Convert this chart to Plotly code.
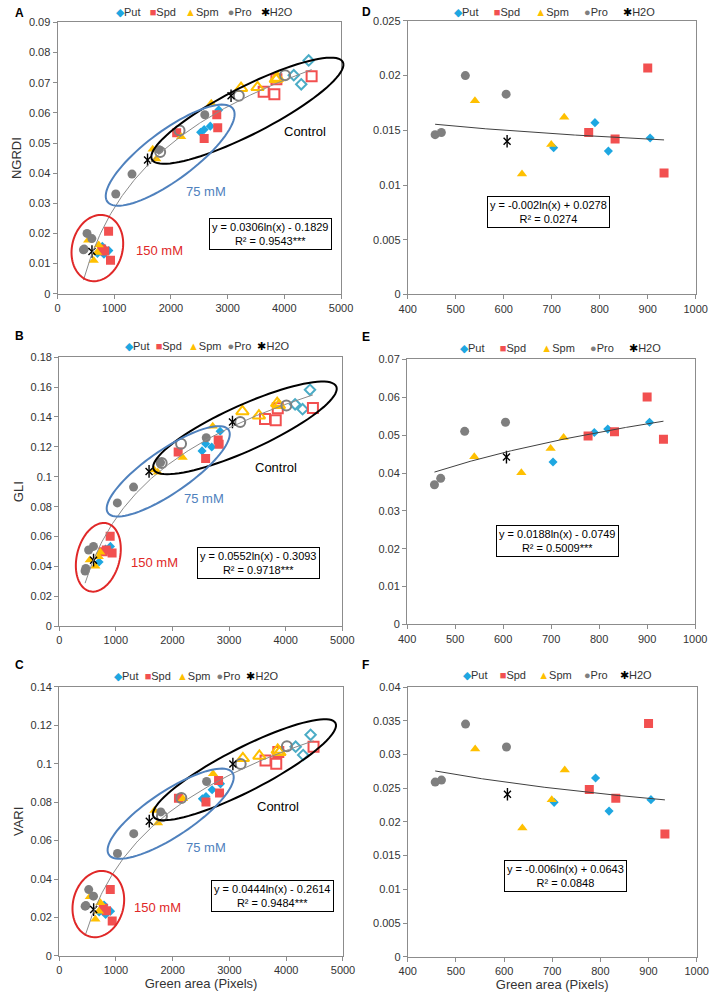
import numpy as np
import plotly.graph_objects as go

W, H = 722, 1000

# ---------------- data ----------------
treatments = ["Put", "Spd", "Spm", "Pro", "H2O"]

# Control (0 mM) - hollow markers
area_ctrl = {"Put": [4166, 4298, 4429], "Spd": [3635, 3824, 3860, 4481],
             "Spm": [3236, 3527, 3850, 3880], "Pro": [1810, 2152, 3197, 4012], "H2O": [3060]}
ngrdi_ctrl = {"Put": [0.0725, 0.0695, 0.0774], "Spd": [0.0670, 0.0662, 0.0712, 0.0722],
              "Spm": [0.0682, 0.0685, 0.0712, 0.0716], "Pro": [0.0470, 0.0542, 0.0657, 0.0725], "H2O": [0.0657]}
gli_ctrl = {"Put": [0.1485, 0.1452, 0.1582], "Spd": [0.1386, 0.1378, 0.1459, 0.1461],
            "Spm": [0.1437, 0.1409, 0.1492, 0.1478], "Pro": [0.1092, 0.1221, 0.1366, 0.1477], "H2O": [0.1366]}
vari_ctrl = {"Put": [0.1088, 0.1045, 0.1150], "Spd": [0.1016, 0.1000, 0.1060, 0.1088],
             "Spm": [0.1028, 0.1040, 0.1071, 0.1059], "Pro": [0.0726, 0.0821, 0.0998, 0.1090], "H2O": [0.0998]}

# 75 mM - filled markers
area_75 = {"Put": [2523, 2586, 2694, 2842], "Spd": [2101, 2586, 2808, 2825],
           "Spm": [1678, 1741, 2180, 2711], "Pro": [1027, 1313, 1790, 2597], "H2O": [1587]}
ngrdi_75 = {"Put": [0.0536, 0.0545, 0.0556, 0.0610], "Spd": [0.0534, 0.0515, 0.0594, 0.0551],
            "Spm": [0.0479, 0.0447, 0.0521, 0.0632], "Pro": [0.0331, 0.0397, 0.0478, 0.0594], "H2O": [0.0444]}
gli_75 = {"Put": [0.1173, 0.1221, 0.1199, 0.1305], "Spd": [0.1166, 0.1122, 0.1246, 0.1217],
          "Spm": [0.1045, 0.1030, 0.1129, 0.1338], "Pro": [0.0825, 0.0931, 0.1095, 0.1261], "H2O": [0.1036]}
vari_75 = {"Put": [0.0817, 0.0829, 0.0864, 0.0895], "Spd": [0.0820, 0.0800, 0.0912, 0.0847],
           "Spm": [0.0757, 0.0692, 0.0817, 0.0947], "Pro": [0.0533, 0.0636, 0.0749, 0.0907], "H2O": [0.0701]}

# 150 mM - filled markers
area_150 = {"Put": [704, 790, 818, 905], "Spd": [777, 832, 900, 934],
            "Spm": [540, 638, 699, 726], "Pro": [457, 470, 520, 605], "H2O": [607]}
ngrdi_150 = {"Put": [0.0134, 0.0157, 0.0131, 0.0143], "Spd": [0.0148, 0.0142, 0.0207, 0.0111],
             "Spm": [0.0177, 0.0110, 0.0137, 0.0162], "Pro": [0.0146, 0.0148, 0.0200, 0.0183], "H2O": [0.0140]}
gli_150 = {"Put": [0.0429, 0.0507, 0.0516, 0.0534], "Spd": [0.0498, 0.0509, 0.0601, 0.0489],
           "Spm": [0.0443, 0.0401, 0.0465, 0.0494], "Pro": [0.0369, 0.0386, 0.0510, 0.0534], "H2O": [0.0442]}
vari_150 = {"Put": [0.0229, 0.0265, 0.0216, 0.0233], "Spd": [0.0248, 0.0235, 0.0346, 0.0182],
            "Spm": [0.0308, 0.0191, 0.0233, 0.0277], "Pro": [0.0259, 0.0262, 0.0345, 0.0311], "H2O": [0.0241]}

# logarithmic trend lines: y = a*ln(x) + b, R2 label
fit_all = {"NGRDI": (0.0306, -0.1829, "0.9543***"), "GLI": (0.0552, -0.3093, "0.9718***"),
           "VARI": (0.0444, -0.2614, "0.9484***")}
fit_150 = {"NGRDI": (-0.002, 0.0278, "0.0274"), "GLI": (0.0188, -0.0749, "0.5009***"),
           "VARI": (-0.006, 0.0643, "0.0848")}

# ---------------- styles ----------------
FONT = "Arial, Liberation Sans, sans-serif"
fill_style = {"Put": ("diamond", "#1ea7e1", 7), "Spd": ("square", "#f25050", 9),
              "Spm": ("triangle-up", "#ffc000", 9), "Pro": ("circle", "#7f7f7f", 9)}
open_style = {"Put": ("diamond-open", "#4bacc6", 8), "Spd": ("square-open", "#f25050", 10),
              "Spm": ("triangle-up-open", "#ffc000", 11), "Pro": ("circle-open", "#7f7f7f", 10)}
legend_sym = {"Put": "◆", "Spd": "■", "Spm": "▲", "Pro": "●", "H2O": "✱"}
legend_col = {"Put": "#1ea7e1", "Spd": "#f25050", "Spm": "#ffc000", "Pro": "#7f7f7f", "H2O": "#000000"}


def px(x):
    return x / W


def py(y):
    return 1 - y / H


# panel definitions (pixel geometry)
panels = [
    dict(n=1, letter="A", idx="NGRDI", kind="all", xd=(50, 342), yd=(291.2, 16.7), yr=(0, 0.09), dt=0.01,
         data=(ngrdi_ctrl, ngrdi_75, ngrdi_150), leg=(201, 6, 3), lab=(4, 7), box=(269.5, 231)),
    dict(n=2, letter="D", idx="NGRDI", kind="150", xd=(410.7, 707.3), yd=(292, 15), yr=(0, 0.025), dt=0.005,
         data=(None, None, ngrdi_150), leg=(561.5, 6, 5), lab=(362, 6), box=(555.5, 208)),
    dict(n=3, letter="B", idx="GLI", kind="all", xd=(51.7, 343.3), yd=(627.7, 355.5), yr=(0, 0.18), dt=0.02,
         data=(gli_ctrl, gli_75, gli_150), leg=(204.5, 344, 2), lab=(4, 334), box=(257, 563.5)),
    dict(n=4, letter="E", idx="GLI", kind="150", xd=(410, 706.7), yd=(626, 357.7), yr=(0, 0.07), dt=0.01,
         data=(None, None, gli_150), leg=(568, 345.7, 5), lab=(362, 335), box=(564.5, 541.5)),
    dict(n=5, letter="C", idx="VARI", kind="all", xd=(51.7, 344), yd=(961.5, 689), yr=(0, 0.14), dt=0.02,
         data=(vari_ctrl, vari_75, vari_150), leg=(193, 677.7, 2), lab=(4, 667), box=(271, 901)),
    dict(n=6, letter="F", idx="VARI", kind="150", xd=(410.7, 708.3), yd=(962.3, 689.3), yr=(0, 0.04), dt=0.005,
         data=(None, None, vari_150), leg=(565, 676.7, 4), lab=(362, 667), box=(573, 881)),
]

fig = go.Figure()
layout = dict(width=W, height=H, margin=dict(l=0, r=0, t=0, b=0), showlegend=False,
              paper_bgcolor="white", plot_bgcolor="white", font=dict(family=FONT, color="#333333"))
annotations = []
shapes = []


def add_h2o(xs, ys, xa, ya):
    fig.add_trace(go.Scatter(x=xs, y=ys, xaxis=xa, yaxis=ya, mode="markers", name="H2O",
                             marker=dict(symbol="x-thin-open", size=7, color="black",
                                         line=dict(color="black", width=1.4))))
    fig.add_trace(go.Scatter(x=xs, y=ys, xaxis=xa, yaxis=ya, mode="markers", name="H2O",
                             marker=dict(symbol="line-ns-open", size=9, color="black",
                                         line=dict(color="black", width=1.4))))


for p in panels:
    n = p["n"]
    xa, ya = ("x" if n == 1 else f"x{n}"), ("y" if n == 1 else f"y{n}")
    ctrl, d75, d150 = p["data"]
    allx = []
    # filled markers: 75 mM + 150 mM
    for t in treatments:
        xs = list(area_150[t])
        ys = list(d150[t])
        if p["kind"] == "all":
            xs = area_75[t] + xs
            ys = d75[t] + ys
        allx += xs
        if t == "H2O":
            add_h2o(xs, ys, xa, ya)
        else:
            sym, col, sz = fill_style[t]
            fig.add_trace(go.Scatter(x=xs, y=ys, xaxis=xa, yaxis=ya, mode="markers", name=t,
                                     marker=dict(symbol=sym, color=col, size=sz, line=dict(width=0))))
    # hollow markers: control
    if p["kind"] == "all":
        for t in treatments:
            allx += area_ctrl[t]
            if t == "H2O":
                add_h2o(area_ctrl[t], ctrl[t], xa, ya)
            else:
                sym, col, sz = open_style[t]
                fig.add_trace(go.Scatter(x=area_ctrl[t], y=ctrl[t], xaxis=xa, yaxis=ya, mode="markers",
                                         name=t + " control",
                                         marker=dict(symbol=sym, color=col, size=sz, line=dict(color=col, width=2))))
    # trend line
    a, b, r2 = (fit_all if p["kind"] == "all" else fit_150)[p["idx"]]
    xt = np.linspace(min(allx), max(allx), 200)
    yt = a * np.log(xt) + b
    fig.add_trace(go.Scatter(x=xt, y=yt, xaxis=xa, yaxis=ya, mode="lines", name="trend",
                             line=dict(color="#8a8a8a" if p["kind"] == "all" else "#404040", width=1),
                             hoverinfo="skip"))
    # axes
    is_left = p["kind"] == "all"
    bottom = n in (5, 6)
    xaxis = dict(domain=[px(p["xd"][0]), px(p["xd"][1])], anchor=ya,
                 range=[0, 5000] if is_left else [400, 1000], dtick=1000 if is_left else 100,
                 showgrid=False, zeroline=False, showline=True, linecolor="#8c8c8c", linewidth=1, mirror=True,
                 ticks="outside", ticklen=4, tickcolor="#8c8c8c", tickfont=dict(size=11, color="#333333"))
    if bottom:
        xaxis["title"] = dict(text="Green area (Pixels)", font=dict(size=13, color="#333333"), standoff=2)
    yaxis = dict(domain=[py(p["yd"][0]), py(p["yd"][1])], anchor=xa, range=list(p["yr"]), dtick=p["dt"], tick0=0,
                 showgrid=False, zeroline=False, showline=True, linecolor="#8c8c8c", linewidth=1, mirror=True,
                 ticks="outside", ticklen=4, tickcolor="#8c8c8c", tickfont=dict(size=11, color="#333333"))
    if is_left:
        yaxis["title"] = dict(text=p["idx"], font=dict(size=13, color="#333333"), standoff=4)
    layout["xaxis" if n == 1 else f"xaxis{n}"] = xaxis
    layout["yaxis" if n == 1 else f"yaxis{n}"] = yaxis

    # panel letter
    annotations.append(dict(text=f"<b>{p['letter']}</b>", x=px(p["lab"][0]), y=py(p["lab"][1]), xref="paper",
                            yref="paper", xanchor="left", yanchor="middle", showarrow=False,
                            font=dict(size=12, color="black")))
    # legend row
    gap = "&nbsp;" * p["leg"][2]
    legtxt = gap.join(f"<span style='color:{legend_col[t]}'>{legend_sym[t]}</span>{t}" for t in treatments)
    annotations.append(dict(text=legtxt, x=px(p["leg"][0]), y=py(p["leg"][1]), xref="paper", yref="paper",
                            xanchor="center", yanchor="middle", showarrow=False,
                            font=dict(size=11, color="#333333")))
    # equation box
    sign = "-" if b < 0 else "+"
    eq = f"y = {a:g}ln(x) {sign} {abs(b):.4f}<br>R² = {r2}"
    annotations.append(dict(text=eq, x=px(p["box"][0]), y=py(p["box"][1]), xref="paper", yref="paper",
                            xanchor="center", yanchor="middle", showarrow=False, align="center",
                            bordercolor="black", borderwidth=1, borderpad=2, bgcolor="white",
                            font=dict(size=11, color="black")))


# ---------------- ellipses & group labels (left panels) ----------------
def ellipse_path(cx, cy, a, b, ang):
    t = np.linspace(0, 2 * np.pi, 90)
    th = np.radians(ang)
    xs = cx + a * np.cos(t) * np.cos(th) - b * np.sin(t) * np.sin(th)
    ys = cy - (a * np.cos(t) * np.sin(th) + b * np.sin(t) * np.cos(th))
    pts = [f"{px(x):.5f},{py(y):.5f}" for x, y in zip(xs, ys)]
    return "M " + " L ".join(pts) + " Z"


ellipses = [
    # (cx, cy, a, b, angle, color)
    (245.5, 106, 110, 24, 26.6, "#000000"), (166, 151, 80, 25, 36, "#4f81bd"), (91, 245, 34, 26, 75, "#e02828"),
    (243, 427, 103, 23, 24, "#000000"), (164, 471, 75, 22, 34, "#4f81bd"), (92, 558, 35.5, 22, 75, "#e02828"),
    (242.5, 773, 105, 22, 26.7, "#000000"), (166.5, 817.5, 76, 23, 33, "#4f81bd"), (92, 909, 34, 26, 75, "#e02828"),
]
for cx, cy, a_, b_, ang, col in ellipses:
    shapes.append(dict(type="path", xref="paper", yref="paper", path=ellipse_path(cx, cy, a_, b_, ang),
                       line=dict(color=col, width=2), fillcolor="rgba(0,0,0,0)"))

group_labels = [
    ("Control", 305, 127, "#000000"), ("75 mM", 203, 188, "#4f81bd"), ("150 mM", 155, 247, "#e02828"),
    ("Control", 275, 467, "#000000"), ("75 mM", 201, 498, "#4f81bd"), ("150 mM", 150, 563, "#e02828"),
    ("Control", 277, 810, "#000000"), ("75 mM", 203, 852, "#4f81bd"), ("150 mM", 153, 912, "#e02828"),
]
for txt, x, y, col in group_labels:
    annotations.append(dict(text=txt, x=px(x), y=py(y), xref="paper", yref="paper", xanchor="center",
                            yanchor="middle", showarrow=False, font=dict(size=13, color=col)))

layout["annotations"] = annotations
layout["shapes"] = shapes
fig.update_layout(**layout)
fig.write_html("out.html", config={"displayModeBar": False},
               post_script="document.body.style.margin='0';document.body.style.overflow='hidden';")
